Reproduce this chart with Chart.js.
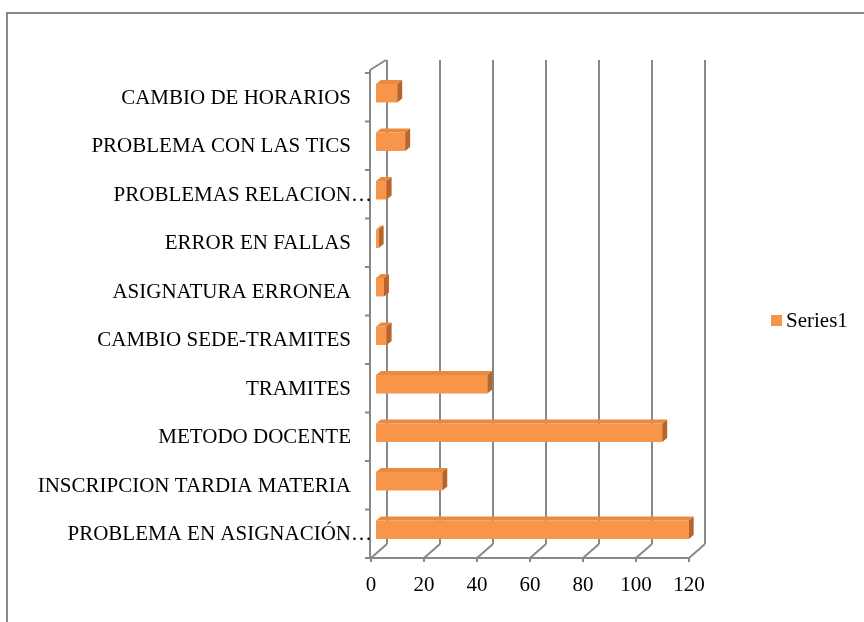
<!DOCTYPE html>
<html>
<head>
<meta charset="utf-8">
<script src="https://cdn.jsdelivr.net/npm/chart.js@4"></script>
<style>
  html, body { margin: 0; padding: 0; background: #fff; }
  #wrap { width: 864px; height: 622px; position: relative; }
</style>
</head>
<body>
<div id="wrap"><canvas id="grafico" width="864" height="622"></canvas></div>
<script>
// categorias de arriba hacia abajo
const categorias = [
  'CAMBIO DE HORARIOS',
  'PROBLEMA CON LAS TICS',
  'PROBLEMAS RELACION…',
  'ERROR EN FALLAS',
  'ASIGNATURA ERRONEA',
  'CAMBIO SEDE-TRAMITES',
  'TRAMITES',
  'METODO DOCENTE',
  'INSCRIPCION TARDIA MATERIA',
  'PROBLEMA EN ASIGNACIÓN…'
];
const series1 = [8, 11, 4, 1, 3, 4, 42, 108, 25, 118];
const ticksX = [0, 20, 40, 60, 80, 100, 120];

const FUENTE = "'Liberation Serif', 'Times New Roman', serif";
const naranja = '#F7964A';
const naranjaTapa = '#EA8A3E';
const naranjaLado = '#B8652C';
const gris = '#888888';

// desplazamiento de la pared del fondo y de las barras (efecto 3D)
const FONDO_DX = 16, FONDO_DY = 14;
const BARRA_DX = 5, BARRA_DY = 4;
const PROF_DX = 5, PROF_DY = 4;

function linea(ctx, x1, y1, x2, y2) {
  ctx.beginPath();
  ctx.moveTo(x1, y1);
  ctx.lineTo(x2, y2);
  ctx.stroke();
}

const fondo3d = {
  id: 'fondo3d',
  beforeDraw(chart) {
    const ctx = chart.ctx;
    ctx.save();
    ctx.fillStyle = '#fff';
    ctx.fillRect(0, 0, chart.width, chart.height);
    // marco exterior
    ctx.strokeStyle = gris;
    ctx.lineWidth = 2;
    ctx.beginPath();
    ctx.moveTo(7, chart.height);
    ctx.lineTo(7, 13);
    ctx.lineTo(chart.width, 13);
    ctx.stroke();
    ctx.restore();
  },
  beforeDatasetsDraw(chart) {
    const ctx = chart.ctx;
    const { left, right, top, bottom } = chart.chartArea;
    const xs = chart.scales.x;
    ctx.save();
    ctx.strokeStyle = gris;
    ctx.lineWidth = 2;
    // pared del fondo y piso
    ticksX.forEach(v => {
      const x = xs.getPixelForValue(v);
      linea(ctx, x + FONDO_DX, top - 13, x + FONDO_DX, bottom - FONDO_DY);
      linea(ctx, x, bottom, x + FONDO_DX, bottom - FONDO_DY);
      linea(ctx, x, bottom, x, bottom + 4);
    });
    // eje frontal inferior
    linea(ctx, left - 1, bottom, right, bottom);
    // eje de categorias
    linea(ctx, left - 1, top - 3, left - 1, bottom);
    linea(ctx, left - 1, top - 3, left + FONDO_DX - 1, top - 13);
    const banda = (bottom - top) / categorias.length;
    for (let i = 0; i <= categorias.length; i++) {
      const y = top + i * banda;
      linea(ctx, left - 6, y, left - 1, y);
    }
    ctx.restore();
    ctx.save();
    ctx.translate(BARRA_DX, -BARRA_DY);
  },
  afterDatasetsDraw(chart) {
    const ctx = chart.ctx;
    const meta = chart.getDatasetMeta(0);
    meta.data.forEach(bar => {
      const { x, y, base, height } = bar.getProps(['x', 'y', 'base', 'height'], true);
      const t = y - height / 2, b = y + height / 2;
      // tapa superior
      ctx.fillStyle = naranjaTapa;
      ctx.beginPath();
      ctx.moveTo(base, t);
      ctx.lineTo(x, t);
      ctx.lineTo(x + PROF_DX, t - PROF_DY);
      ctx.lineTo(base + PROF_DX, t - PROF_DY);
      ctx.closePath();
      ctx.fill();
      // cara lateral
      ctx.fillStyle = naranjaLado;
      ctx.beginPath();
      ctx.moveTo(x, t);
      ctx.lineTo(x + PROF_DX, t - PROF_DY);
      ctx.lineTo(x + PROF_DX, b - PROF_DY);
      ctx.lineTo(x, b);
      ctx.closePath();
      ctx.fill();
    });
    ctx.restore();
  },
  afterDraw(chart) {
    const ctx = chart.ctx;
    const ys = chart.scales.y;
    ctx.save();
    ctx.fillStyle = '#000';
    ctx.font = '21px ' + FUENTE;
    ctx.textBaseline = 'middle';
    ctx.textAlign = 'right';
    categorias.forEach((c, i) => {
      const y = ys.getPixelForValue(i) + 1;
      ctx.fillText(c, c.endsWith('…') ? 372 : 351, y);
    });
    // leyenda
    const ds = chart.data.datasets[0];
    ctx.fillStyle = ds.backgroundColor;
    ctx.fillRect(771, 315, 11, 11);
    ctx.fillStyle = '#000';
    ctx.textAlign = 'left';
    ctx.fillText(ds.label, 786, 321);
    ctx.restore();
  }
};

const ctx = document.getElementById('grafico').getContext('2d');
new Chart(ctx, {
  type: 'bar',
  data: {
    labels: categorias,
    datasets: [{
      label: 'Series1',
      data: series1,
      backgroundColor: naranja,
      borderWidth: 0,
      barPercentage: 0.38,
      categoryPercentage: 1
    }]
  },
  options: {
    indexAxis: 'y',
    responsive: false,
    animation: false,
    layout: { padding: { left: 371, right: 175, top: 73, bottom: 0 } },
    scales: {
      x: {
        min: 0,
        max: 120,
        afterBuildTicks: s => { s.ticks = ticksX.map(v => ({ value: v })); },
        afterFit: s => { s.height = 64; },
        grid: { display: false },
        border: { display: false },
        ticks: { font: { family: FUENTE, size: 21 }, color: '#000', padding: 7 }
      },
      y: { display: false }
    },
    plugins: {
      legend: { display: false },
      tooltip: { enabled: false }
    }
  },
  plugins: [fondo3d]
});
</script>
</body>
</html>
